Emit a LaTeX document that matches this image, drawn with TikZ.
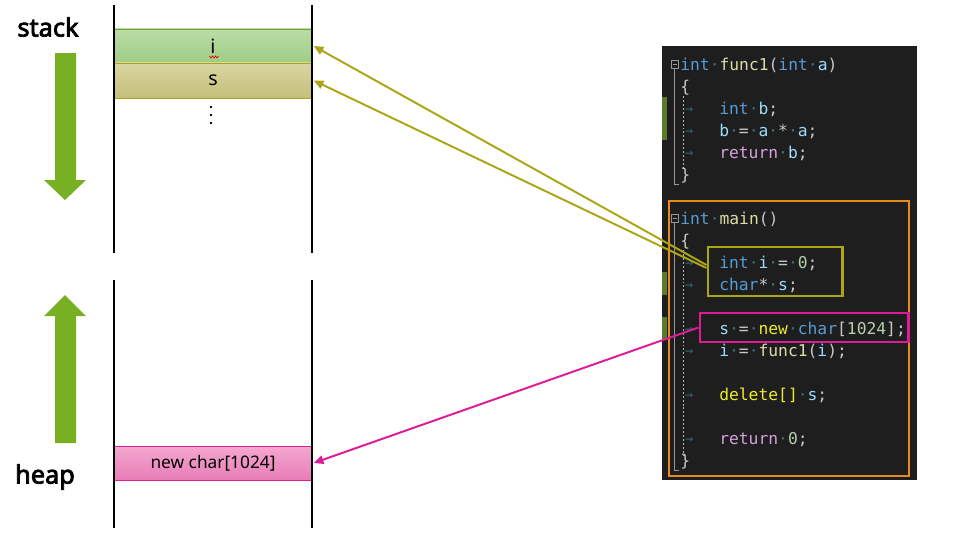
\documentclass[tikz,border=0pt]{standalone}
\usepackage{fontspec}
\setmainfont{Noto Sans}
\newfontfamily\labelfont{Noto Sans}[FakeBold=3]
\newfontfamily\codefont{DejaVu Sans Mono}
\usetikzlibrary{arrows.meta}
\definecolor{arrowgreen}{RGB}{119,176,34}
\definecolor{declolive}{RGB}{170,166,24}
\definecolor{newmagenta}{RGB}{222,28,150}
\definecolor{mainorange}{RGB}{232,138,30}
\definecolor{panelbg}{RGB}{30,30,30}
\definecolor{codekw}{RGB}{86,156,214}
\definecolor{codefn}{RGB}{220,220,170}
\definecolor{codevar}{RGB}{156,220,254}
\definecolor{codepun}{RGB}{200,200,200}
\definecolor{codenum}{RGB}{181,206,168}
\definecolor{codectl}{RGB}{216,160,223}
\definecolor{codenew}{RGB}{236,236,40}
\definecolor{codews}{RGB}{60,110,125}
\definecolor{codetab}{RGB}{45,100,112}
\definecolor{codeguide}{RGB}{150,150,150}
\definecolor{codemark}{RGB}{90,122,45}
\newcommand{\ckw}[1]{\textcolor{codekw}{#1}}
\newcommand{\cfn}[1]{\textcolor{codefn}{#1}}
\newcommand{\cvar}[1]{\textcolor{codevar}{#1}}
\newcommand{\cnum}[1]{\textcolor{codenum}{#1}}
\newcommand{\cctl}[1]{\textcolor{codectl}{#1}}
\newcommand{\cnew}[1]{\textcolor{codenew}{#1}}
\newcommand{\cws}{\textcolor{codews}{·}}
\begin{document}
\begin{tikzpicture}[x=0.025cm, y=-0.025cm,
    wall/.style={line width=2.1pt},
    cell/.style={minimum width=4.9cm, minimum height=0.85cm, inner sep=0pt, line width=0.7pt},
    code/.style={anchor=base west, inner sep=0pt, text=codepun, font=\codefont\fontsize{11.6}{14}\selectfont},
    codebox/.style={line width=2.1pt, inner sep=0pt},
    ptr/.style={line width=1.4pt, -{Triangle[length=7pt,width=6pt]}}]
    \useasboundingbox (0,0) rectangle (960,539);
    \def\downpath{(55,53) -- (76,53) -- (76,180) -- (86,180) -- (65,200) -- (44,180) -- (55,180) -- cycle}
    \def\uppath{(55,443) -- (76,443) -- (76,316) -- (86,316) -- (65,295) -- (44,316) -- (55,316) -- cycle}
    % stack and heap
    \node[font=\labelfont\fontsize{18}{20}\selectfont] (stack) at (48,27) {stack};
    \node[font=\labelfont\fontsize{18}{20}\selectfont] (heap) at (45,477) {heap};
    \fill[arrowgreen] \downpath;
    \fill[arrowgreen] \uppath;
    \node[cell, draw=arrowgreen!85!black!90, top color={rgb,255:red,186;green,221;blue,166}, bottom color={rgb,255:red,158;green,205;blue,132}, font=\fontsize{14}{16}\selectfont] (cellI) at (213,46) {i};
    \node[cell, draw=declolive, top color={rgb,255:red,218;green,214;blue,162}, bottom color={rgb,255:red,196;green,191;blue,120}, minimum height=0.875cm, font=\fontsize{14}{16}\selectfont] (cellS) at (213,80.5) {s};
    \node[cell, draw=newmagenta, top color={rgb,255:red,244;green,168;blue,206}, bottom color={rgb,255:red,232;green,124;blue,184}, font=\fontsize{12.3}{14}\selectfont] (cellNew) at (213,463) {new char[1024]};
    \draw[red, line width=0.5pt] (209.5,56) -- (211,58) -- (212.5,56) -- (214,58) -- (215.5,56) -- (217,58) -- (218.5,56);
    \foreach \d in {107,115,123} \fill (211,\d) circle (1.4);
    \draw[wall] (114,5) -- (114,253);
    \draw[wall] (312,5) -- (312,253);
    \draw[wall] (114,280) -- (114,528);
    \draw[wall] (312,280) -- (312,528);
    % code panel
    \fill[panelbg] (662,46) rectangle (917,480);
    \fill[codemark] (662,97) rectangle (667,140);
    \fill[codemark] (662,272) rectangle (667,295);
    \fill[codemark] (662,317) rectangle (667,340);
    \draw[codeguide] (671,60) rectangle (678,68);
    \draw[codeguide] (672.5,64) -- (676.5,64);
    \draw[codeguide] (671,214) rectangle (678,222);
    \draw[codeguide] (672.5,218) -- (676.5,218);
    \draw[codeguide] (674.5,68) -- (674.5,184) -- (679,184);
    \draw[codeguide] (674.5,222) -- (674.5,470) -- (679,470);
    \draw[codeguide!70, dash pattern=on 1.4pt off 1.4pt] (683,96) -- (683,170);
    \draw[codeguide!70, dash pattern=on 1.4pt off 1.4pt] (683,250) -- (683,456);
    \foreach \r in {113,135,157,267,289,333,355,399,443}
        \node[code, anchor=base, text=codetab, font=\codefont\fontsize{10}{12}\selectfont] at (689,\r) {→};
    \node[code] (func) at (680,70) {\ckw{int}\cws\cfn{func1}(\ckw{int}\cws\cvar{a})};
    \node[code] (funcOpen) at (680,92) {\{};
    \node[code] (intB) at (719,114) {\ckw{int}\cws\cvar{b};};
    \node[code] (calcB) at (719,136) {\cvar{b}\cws=\cws\cvar{a}\cws*\cws\cvar{a};};
    \node[code] (retB) at (719,158) {\cctl{return}\cws\cvar{b};};
    \node[code] (funcClose) at (680,180) {\}};
    \node[code] (main) at (680,224) {\ckw{int}\cws\cfn{main}()};
    \node[code] (mainOpen) at (680,246) {\{};
    \node[code] (declI) at (719,268) {\ckw{int}\cws\cvar{i}\cws=\cws\cnum{0};};
    \node[code] (declS) at (719,290) {\ckw{char}*\cws\cvar{s};};
    \node[code] (newS) at (719,334) {\cvar{s}\cws=\cws\cnew{new}\cws\ckw{char}[\cnum{1024}];};
    \node[code] (callF) at (719,356) {\cvar{i}\cws=\cws\cfn{func1}(\cvar{i});};
    \node[code] (delS) at (719,400) {\cnew{delete[]}\cws\cvar{s};};
    \node[code] (retZero) at (719,444) {\cctl{return}\cws\cnum{0};};
    \node[code] (mainClose) at (680,466) {\}};
    \draw[mainorange, line width=2.1pt] (669,201) rectangle (909,476);
    \node[codebox, draw=declolive, minimum width=3.35cm, minimum height=1.225cm] (boxDecl) at (775,271.5) {};
    \node[codebox, draw=newmagenta, minimum width=5.2cm, minimum height=0.725cm] (boxNew) at (804,327.5) {};
    % pointers
    \draw[ptr, declolive] ([yshift=4.6pt]boxDecl.west) -- ([xshift=1.5pt]cellI.east);
    \draw[ptr, declolive] ([yshift=2.5pt]boxDecl.west) -- ([xshift=1.5pt]cellS.east);
    \draw[ptr, newmagenta] (boxNew.west) -- ([xshift=1.5pt]cellNew.east);
\end{tikzpicture}
\end{document}
